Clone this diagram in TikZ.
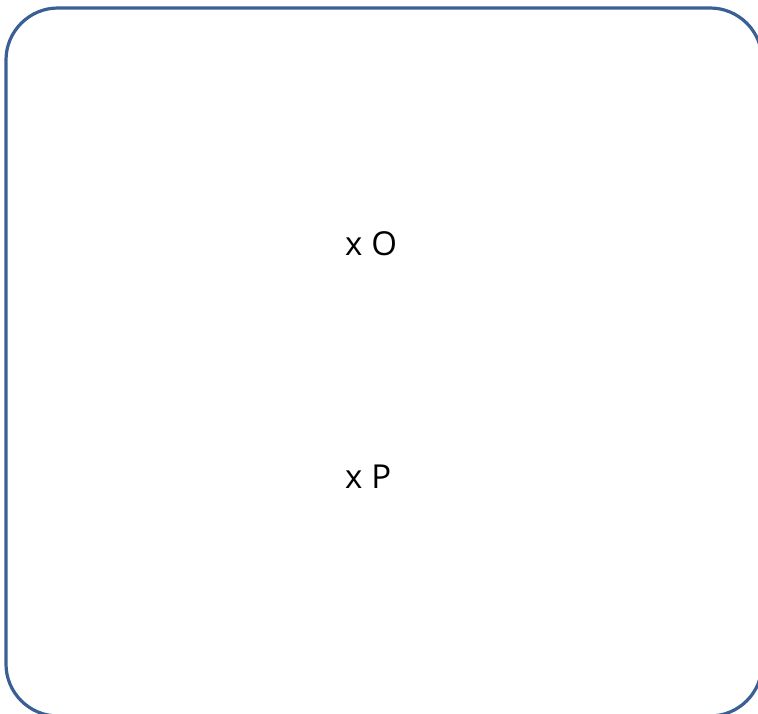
\documentclass[tikz,border=0pt]{standalone}
\usepackage{fontspec}
\setmainfont{Open Sans}
\usepackage{tikz}
\definecolor{framblue}{HTML}{3A5F94}

\begin{document}
\begin{tikzpicture}[
        x=1pt, y=-1pt,
        frame/.style={draw=framblue, line width=3.2pt, rounded corners=52pt},
        pointlabel/.style={anchor=base west, inner sep=0pt, font=\fontsize{33}{40}\selectfont}
    ]

    % Page size of the reference
    \useasboundingbox (0,0) rectangle (758,714);
    \clip (0,0) rectangle (758,714);

    % Frame, running off the right and bottom edge
    \draw[frame] (6,8) rectangle (762,716);

    % Points
    \node[pointlabel] (labelO) at (345,256) {x\hspace{9pt}O};
    \node[pointlabel] (labelP) at (345,488) {x\hspace{9pt}P};

\end{tikzpicture}
\end{document}
